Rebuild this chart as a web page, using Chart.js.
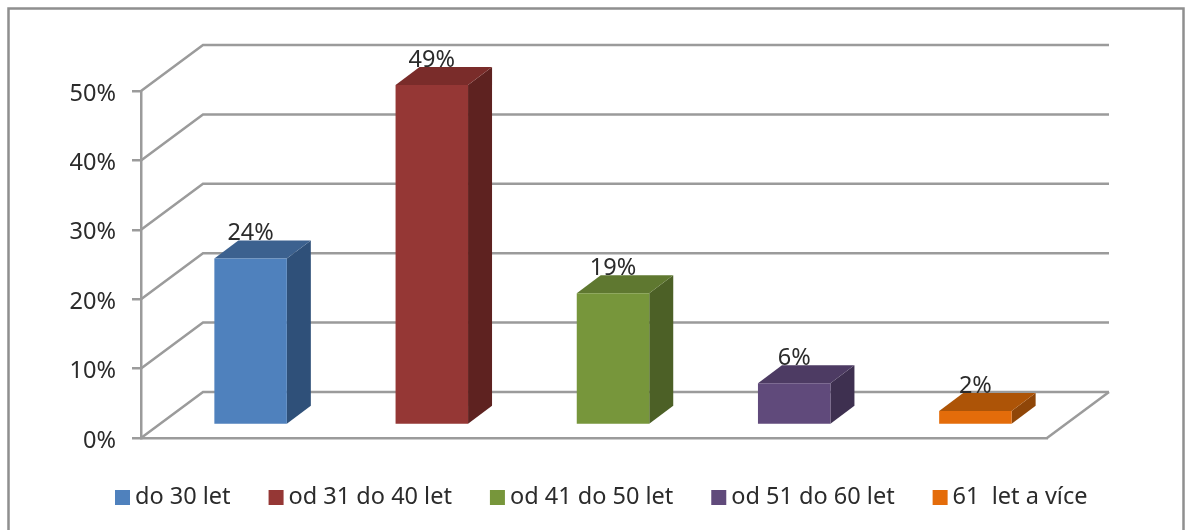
<!DOCTYPE html>
<html lang="cs">
<head>
<meta charset="utf-8">
<title>Věk respondentů</title>
<style>
    html, body { margin: 0; background: #fff; }
    canvas { display: block; filter: blur(0.5px); }
</style>
<script src="https://cdn.jsdelivr.net/npm/chart.js@4/dist/chart.umd.min.js"></script>
</head>
<body>
<canvas id="chart" width="1186" height="530"></canvas>
<script>
"use strict";

// DATA
const categories = ["do 30 let", "od 31 do 40 let", "od 41 do 50 let", "od 51 do 60 let", "61  let a více"];
const shares = [24, 49, 19, 6, 2];
const axisMax = 50;
const axisStep = 10;

// STYLE
const FONT = "\"Noto Sans\", sans-serif";
const FONT_SIZE = 23.5;
const TEXT_COLOR = "#2b2b2b";
const LINE_COLOR = "#9b9b9b";
const FACE_COLORS = ["#4f81bd", "#953735", "#77963b", "#604a7b", "#e46c0a"];
const TOP_COLORS = ["#3c618f", "#7a2c2a", "#5f7830", "#4d3b63", "#ad5407"];
const SIDE_COLORS = ["#2f5079", "#5e2220", "#4c6026", "#3e3050", "#8f4608"];

// Depth of the fake 3D box, and how far the bars sit inside of it
const WALL_DX = 62;
const WALL_DY = -46;
const BAR_SHIFT_X = 19;
const BAR_SHIFT_Y = -13;
const BAR_DX = 24;
const BAR_DY = -18;

function polygon(ctx, color, points) {
    ctx.fillStyle = color;
    ctx.beginPath();
    points.forEach(([x, y], i) => (i === 0 ? ctx.moveTo(x, y) : ctx.lineTo(x, y)));
    ctx.closePath();
    ctx.fill();
}

const framePlugin = {
    id: "frame",
    beforeDraw({ ctx }) {
        ctx.save();
        ctx.fillStyle = "#fff";
        ctx.fillRect(0, 0, 1186, 530);
        ctx.strokeStyle = "#8f8f8f";
        ctx.lineWidth = 2.5;
        ctx.strokeRect(8.5, 8.5, 1175, 540);
        ctx.restore();
    }
};

const box3dPlugin = {
    id: "box3d",
    beforeDatasetsDraw(chart) {
        const { ctx, scales: { x, y } } = chart;

        // Walls and floor
        ctx.save();
        ctx.strokeStyle = LINE_COLOR;
        ctx.lineWidth = 2.5;
        for (const tick of y.ticks) {
            const py = y.getPixelForValue(tick.value);
            ctx.beginPath();
            ctx.moveTo(x.left, py);
            ctx.lineTo(x.left + WALL_DX, py + WALL_DY);
            ctx.lineTo(x.right + WALL_DX, py + WALL_DY);
            ctx.stroke();
        }
        const floorY = y.getPixelForValue(0);
        ctx.beginPath();
        ctx.moveTo(x.right, floorY);
        ctx.lineTo(x.right + WALL_DX, floorY + WALL_DY);
        ctx.stroke();
        ctx.restore();

        // Bars are pushed into the box, the library draws their front face
        ctx.save();
        ctx.translate(BAR_SHIFT_X, BAR_SHIFT_Y);
        chart.getDatasetMeta(0).data.forEach((bar, i) => {
            const left = bar.x - bar.width / 2;
            const right = bar.x + bar.width / 2;
            polygon(ctx, SIDE_COLORS[i], [
                [right, bar.y],
                [right + BAR_DX, bar.y + BAR_DY],
                [right + BAR_DX, bar.base + BAR_DY],
                [right, bar.base]
            ]);
            polygon(ctx, TOP_COLORS[i], [
                [left, bar.y],
                [left + BAR_DX, bar.y + BAR_DY],
                [right + BAR_DX, bar.y + BAR_DY],
                [right, bar.y]
            ]);
        });
    },
    afterDatasetsDraw(chart) {
        const { ctx } = chart;
        ctx.restore();

        // Value labels
        ctx.save();
        ctx.font = `${FONT_SIZE}px ${FONT}`;
        ctx.fillStyle = TEXT_COLOR;
        ctx.textAlign = "center";
        ctx.textBaseline = "alphabetic";
        chart.getDatasetMeta(0).data.forEach((bar, i) => {
            ctx.fillText(`${shares[i]}%`, bar.x + BAR_SHIFT_X, bar.y + BAR_SHIFT_Y + BAR_DY);
        });
        ctx.restore();
    }
};

const legendPlugin = {
    id: "bottomLegend",
    afterDraw({ ctx }) {
        ctx.save();
        ctx.font = `${FONT_SIZE}px ${FONT}`;
        ctx.textBaseline = "middle";
        let left = 115;
        categories.forEach((name, i) => {
            ctx.fillStyle = FACE_COLORS[i];
            ctx.fillRect(left, 490, 15, 15);
            ctx.fillStyle = TEXT_COLOR;
            ctx.fillText(name, left + 20, 497);
            left += 20 + ctx.measureText(name).width + 38;
        });
        ctx.restore();
    }
};

new Chart(document.getElementById("chart"), {
    type: "bar",
    data: {
        labels: categories,
        datasets: [{
            data: shares,
            backgroundColor: FACE_COLORS,
            barPercentage: 0.4,
            categoryPercentage: 1
        }]
    },
    options: {
        responsive: false,
        animation: false,
        layout: {
            padding: { left: 0, top: 91, right: 139, bottom: 92 }
        },
        plugins: {
            legend: { display: false },
            tooltip: { enabled: false }
        },
        scales: {
            x: {
                grid: { display: false },
                border: { color: LINE_COLOR, width: 2.5 },
                ticks: { display: false },
                afterFit(scale) {
                    scale.height = 0;
                }
            },
            y: {
                min: 0,
                max: axisMax,
                afterFit(scale) {
                    scale.width = 141;
                },
                grid: {
                    drawOnChartArea: false,
                    color: LINE_COLOR,
                    lineWidth: 2.5,
                    tickLength: 9
                },
                border: { color: LINE_COLOR, width: 2.5 },
                ticks: {
                    stepSize: axisStep,
                    padding: 16,
                    color: TEXT_COLOR,
                    font: { family: FONT, size: FONT_SIZE, lineHeight: "6px" },
                    // The empty first line pushes the label a little below its tick
                    callback: (value) => ["", `${value}%`]
                }
            }
        }
    },
    plugins: [framePlugin, box3dPlugin, legendPlugin]
});
</script>
</body>
</html>
